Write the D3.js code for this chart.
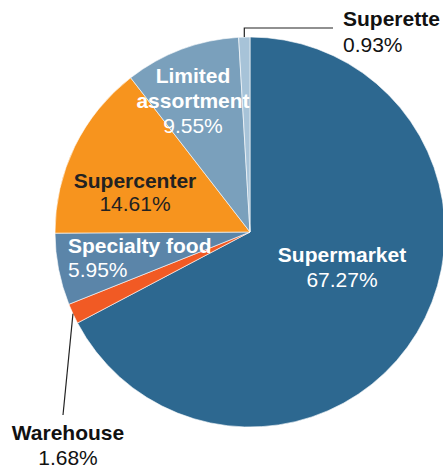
<!DOCTYPE html>
<html>
<head>
<meta charset="utf-8">
<script src="https://cdn.jsdelivr.net/npm/d3@7"></script>
<style>
  body { margin: 0; background: #fff; }
  text { font-family: "Liberation Sans", Arial, Helvetica, sans-serif; }
</style>
</head>
<body>
<div id="chart"></div>
<script>
// data
var categories = ["Supermarket", "Warehouse", "Specialty food", "Supercenter", "Limited assortment", "Superette"];
var shares = [67.27, 1.68, 5.95, 14.61, 9.55, 0.93];
var colors = ["#2d6890", "#f15a24", "#5b85a9", "#f7941e", "#7aa0bc", "#a7c3d8"];

var width = 443, height = 467;
var cx = 250, cy = 232, radius = 195;

var svg = d3.select("#chart").append("svg")
    .attr("width", width)
    .attr("height", height);

var pie = d3.pie().sort(null).value(function(d){ return d; });
var arcs = pie(shares);
var arc = d3.arc().innerRadius(0).outerRadius(radius);

var g = svg.append("g").attr("transform", "translate(" + cx + "," + cy + ")");

g.selectAll("path")
    .data(arcs)
    .enter().append("path")
    .attr("d", arc)
    .attr("fill", function(d, i){ return colors[i]; })
    .attr("stroke", "#fff")
    .attr("stroke-width", 0.6);

// label layout (anchor, x, y of first line, line gap, colour), relative to svg
var labelLayout = {
    "Supermarket":        {anchor: "middle", x: 342, y: 262, gap: 25, fill: "#fff", lines: ["Supermarket"]},
    "Supercenter":        {anchor: "middle", x: 135, y: 188, gap: 23, fill: "#222", lines: ["Supercenter"]},
    "Limited assortment": {anchor: "middle", x: 193, y: 83,  gap: 25, fill: "#fff", lines: ["Limited", "assortment"]},
    "Specialty food":     {anchor: "start",  x: 68,  y: 253, gap: 24, fill: "#fff", lines: ["Specialty food"]},
    "Superette":          {anchor: "start",  x: 343, y: 26,  gap: 26, fill: "#111", lines: ["Superette"], lead: [[0, 28], [333, 28]]},
    "Warehouse":          {anchor: "middle", x: 68,  y: 440, gap: 25, fill: "#111", lines: ["Warehouse"], lead: [[63, 415]]}
};

function edgePoint(a){
    var m = (a.startAngle + a.endAngle) / 2;
    return [cx + radius * Math.sin(m), cy - radius * Math.cos(m)];
}

arcs.forEach(function(a, i){
    var name = categories[i];
    var L = labelLayout[name];
    if (L.lead) {
        var p0 = edgePoint(a);
        var pts = [p0].concat(L.lead.map(function(p, k){
            // first lead point with x=0 means straight up from edge
            return (k === 0 && p[0] === 0) ? [p0[0], p[1]] : p;
        }));
        svg.append("path")
            .attr("d", d3.line()(pts))
            .attr("fill", "none")
            .attr("stroke", "#222")
            .attr("stroke-width", 1.2);
    }
    var t = svg.append("text")
        .attr("text-anchor", L.anchor)
        .attr("fill", L.fill)
        .style("font-size", "21px");
    L.lines.forEach(function(line, k){
        t.append("tspan")
            .attr("x", L.x)
            .attr("y", L.y + k * L.gap)
            .style("font-weight", "bold")
            .text(line);
    });
    t.append("tspan")
        .attr("x", L.x)
        .attr("y", L.y + L.lines.length * L.gap)
        .text(d3.format(".2f")(shares[i]) + "%");
});
</script>
</body>
</html>
